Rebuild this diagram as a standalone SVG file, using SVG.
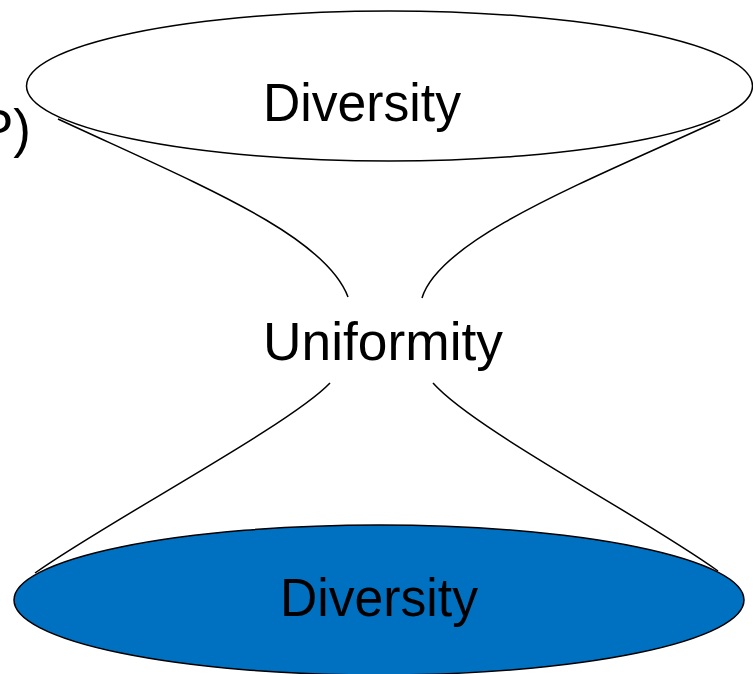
<svg xmlns="http://www.w3.org/2000/svg" width="753" height="674" viewBox="0 0 753 674">
<style>
.lbl{font-family:"Liberation Sans","DejaVu Sans",Arial,sans-serif;font-size:53px;fill:#000;text-anchor:middle}
.edge{fill:none;stroke:#000;stroke-width:1.5}
</style>
<rect x="0" y="0" width="753" height="674" fill="#fff"/>
<g id="top">
<ellipse cx="389.5" cy="86" rx="363" ry="75" fill="#fff" stroke="#000" stroke-width="1.5"/>
<text class="lbl" x="362" y="121" textLength="198" lengthAdjust="spacingAndGlyphs">Diversity</text>
</g>
<g id="connectors">
<path class="edge" d="M58,119 C200,185 325,235 348,297"/>
<path class="edge" d="M720,120 C590,180 440,238 422,298"/>
<path class="edge" d="M330,383 C290,425 110,520 35,573"/>
<path class="edge" d="M433,383 C475,430 640,515 718,571"/>
</g>
<g id="middle">
<text class="lbl" x="383" y="360" textLength="240" lengthAdjust="spacingAndGlyphs">Uniformity</text>
</g>
<g id="bottom">
<ellipse cx="379" cy="600" rx="365" ry="75" fill="#0070C0" stroke="#000" stroke-width="1.5"/>
<text class="lbl" x="379" y="616" textLength="198" lengthAdjust="spacingAndGlyphs">Diversity</text>
</g>
<g id="side">
<text class="lbl" x="31" y="147" style="text-anchor:end">P)</text>
</g>
</svg>
